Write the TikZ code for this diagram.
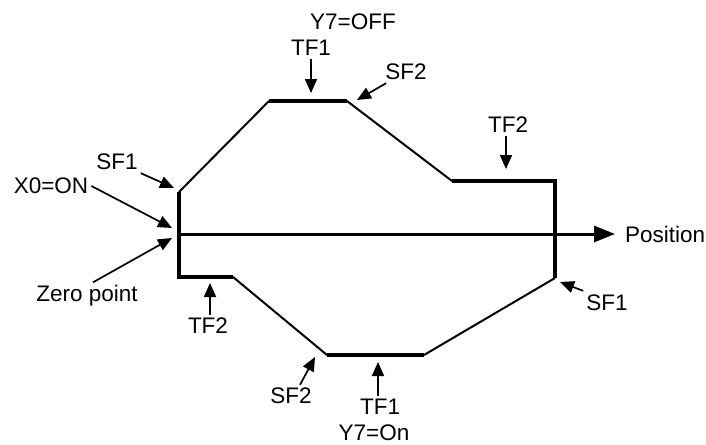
\documentclass[tikz,border=0pt]{standalone}
\usepackage{fontspec}
\setmainfont{Liberation Sans}
\usetikzlibrary{arrows.meta,positioning,calc}

\begin{document}
\begin{tikzpicture}[x=1pt,y=-1pt,
    edge/.style={line width=3.2pt, line join=miter},
    ramp/.style={line width=2pt},
    pointer/.style={line width=1.7pt, -{Triangle[length=14pt,width=12pt]}},
    lbl/.style={font=\fontsize{22.5}{27}\selectfont, inner sep=3pt}]
  \useasboundingbox (0,0) rectangle (706,444);
  % Corners of the profile
  \coordinate (A) at (179,192);
  \coordinate (B) at (269,101);
  \coordinate (C) at (347,101);
  \coordinate (D) at (452,181);
  \coordinate (E) at (555,181);
  \coordinate (F) at (555,278);
  \coordinate (G) at (424,355);
  \coordinate (H) at (327,355);
  \coordinate (I) at (233,277);
  \coordinate (J) at (179,277);
  % Profile: flat parts thick, ramps thinner
  \draw[edge] (A) -- (J) -- (I);
  \draw[edge] (B) -- (C);
  \draw[edge] (D) -- (E) -- (F);
  \draw[edge] (H) -- (G);
  \draw[ramp] (A) -- (B);
  \draw[ramp] (C) -- (D);
  \draw[ramp] (F) -- (G);
  \draw[ramp] (H) -- (I);
  % Position axis
  \coordinate (origin) at (179,234);
  \node[lbl, anchor=west] (pos) at (622,234) {Position};
  \draw[line width=3pt, -{Triangle[length=21pt,width=16pt]}]
    (origin) -- ([xshift=-7pt]pos.west);
  % Labels
  \node[lbl] (yoff) at (353,22) {Y7=OFF};
  \node[lbl] (tfa) at (311,48) {TF1};
  \node[lbl] (sfb) at (406,72) {SF2};
  \node[lbl] (tfb) at (508,125) {TF2};
  \node[lbl] (sfa) at (117,162) {SF1};
  \node[lbl] (xon) at (51,186) {X0=ON};
  \node[lbl] (zero) at (87,296) {Zero point};
  \node[lbl] (tfc) at (208,326) {TF2};
  \node[lbl] (sfc) at (291,396) {SF2};
  \node[lbl] (tfd) at (380,407) {TF1};
  \node[lbl] (yon) at (374,433) {Y7=On};
  \node[lbl] (sfd) at (607,303) {SF1};
  % Arrow tips
  \coordinate (tfatip) at (311,93);
  \coordinate (sfbtip) at (357,100);
  \coordinate (tfbtip) at (506,169);
  \coordinate (sfatip) at (174,188);
  \coordinate (xontip) at (172,228);
  \coordinate (zerotip) at (172,238);
  \coordinate (tfctip) at (210,283);
  \coordinate (sfctip) at (315,357);
  \coordinate (tfdtip) at (378,362);
  \coordinate (sfdtip) at (560,282);
  % Arrows
  \draw[pointer] (tfa.south -| tfatip) -- (tfatip);
  \draw[pointer] ([xshift=4pt]sfb.south west) -- (sfbtip);
  \draw[pointer] (tfb.south -| tfbtip) -- (tfbtip);
  \draw[pointer] (sfa.south east) -- (sfatip);
  \draw[pointer] (xon.east) -- (xontip);
  \draw[pointer] ([xshift=6pt]zero.north) -- (zerotip);
  \draw[pointer] (tfc.north -| tfctip) -- (tfctip);
  \draw[pointer] ([xshift=9pt]sfc.north) -- (sfctip);
  \draw[pointer] (tfd.north -| tfdtip) -- (tfdtip);
  \draw[pointer] ([yshift=1pt]sfd.north west) -- (sfdtip);
\end{tikzpicture}
\end{document}
